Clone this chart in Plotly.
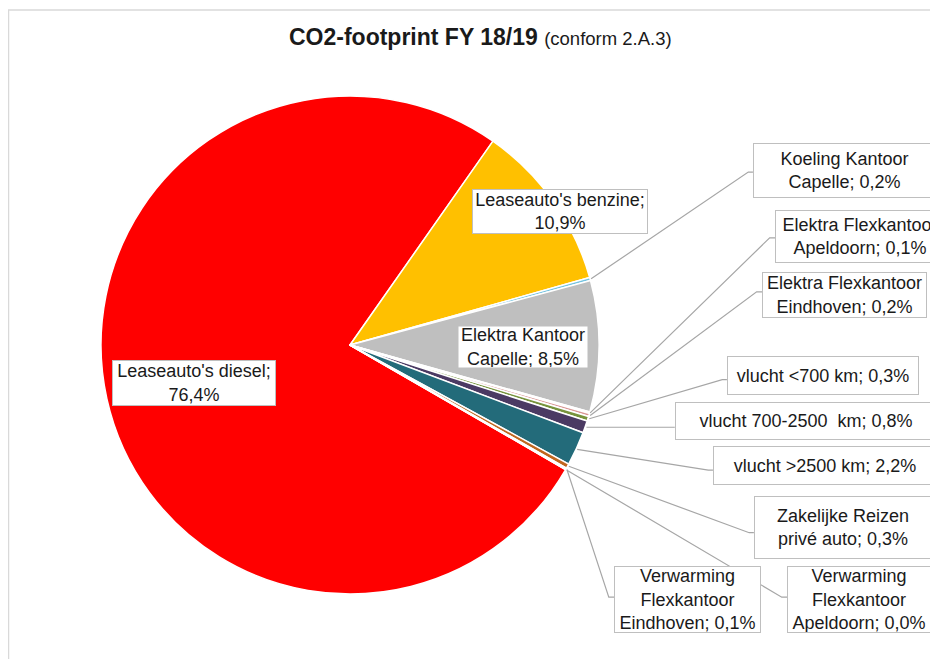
import math
import plotly.graph_objects as go

# ---------------- data ----------------
categories = [
    "Leaseauto's diesel",
    "Leaseauto's benzine",
    "Koeling Kantoor Capelle",
    "Elektra Kantoor Capelle",
    "Elektra Flexkantoor Apeldoorn",
    "Elektra Flexkantoor Eindhoven",
    "vlucht <700 km",
    "vlucht 700-2500  km",
    "vlucht >2500 km",
    "Zakelijke Reizen privé auto",
    "Verwarming Flexkantoor Eindhoven",
    "Verwarming Flexkantoor Apeldoorn",
]
values = [76.4, 10.9, 0.2, 8.5, 0.1, 0.2, 0.3, 0.8, 2.2, 0.3, 0.1, 0.0]
# label text with line breaks; {} gets the percentage
label_templates = [
    "Leaseauto's diesel;<br>{}",
    "Leaseauto's benzine;<br>{}",
    "Koeling Kantoor<br>Capelle; {}",
    "Elektra Kantoor<br>Capelle; {}",
    "Elektra Flexkantoor<br>Apeldoorn; {}",
    "Elektra Flexkantoor<br>Eindhoven; {}",
    "vlucht <700 km; {}",
    "vlucht 700-2500  km; {}",
    "vlucht >2500 km; {}",
    "Zakelijke Reizen<br>privé auto; {}",
    "Verwarming<br>Flexkantoor<br>Eindhoven; {}",
    "Verwarming<br>Flexkantoor<br>Apeldoorn; {}",
]
colors = ["#FF0000", "#FFC000", "#74C3E0", "#BFBFBF", "#F2DCDB", "#D99694",
          "#77933C", "#4B3A63", "#236B7A", "#C0661E", "#8C8C8C", "#595959"]

title_main = "CO2-footprint FY 18/19"
title_sub = "(conform 2.A.3)"

# ---------------- layout constants ----------------
# the page body has an 8px margin, so the figure is drawn at (8, 8)
OFF = 8
W, H = 938 - OFF, 659 - OFF
CX, CY, R = 350, 345, 249
ROTATION = 120

# label box layout (window pixels): (center x, center y, width, height, knee y, outside?)
box_layout = [
    (194, 383, 164, 46, None, False),
    (560, 211.5, 176, 45, None, False),
    (844.5, 170.5, 183, 55, 172, True),
    (523, 347, 130, 42, None, False),
    (860, 236.5, 170, 53, 238, True),
    (844.5, 295, 165, 46, 292, True),
    (823, 375.5, 192, 39, 380, True),
    (806, 421, 262, 38, 427, True),
    (825, 465.5, 224, 39, 470, True),
    (843, 527.5, 178, 63, 533, True),
    (687.5, 599.5, 147, 67, 597, True),
    (859, 599.5, 144, 67, 597, True),
]
inner_border = [True, True, True, False]

def px(x):
    return (x - OFF) / W

def py(y):
    return 1 - (y - OFF) / H

fig = go.Figure()
fig.add_trace(go.Pie(
    labels=categories,
    values=values,
    sort=False,
    direction="clockwise",
    rotation=ROTATION,
    textinfo="none",
    hoverinfo="label+percent",
    marker=dict(colors=colors, line=dict(color="white", width=1.5)),
    domain=dict(x=[px(CX - R), px(CX + R)], y=[py(CY + R), py(CY - R)]),
    showlegend=False,
))

total = sum(values)
cum = 0.0
shapes = []
annotations = []
for i, v in enumerate(values):
    mid = math.radians(ROTATION + 360.0 * (cum + v / 2) / total)
    cum += v
    bx, by, bw, bh, knee_y, outside = box_layout[i]
    pct = ("%.1f%%" % v).replace(".", ",")
    text = label_templates[i].format(pct)
    bordered = outside or inner_border[i]
    annotations.append(dict(
        x=px(bx), y=py(by), xref="paper", yref="paper",
        xanchor="center", yanchor="middle",
        text=text, showarrow=False, align="center", valign="middle",
        width=bw - 2, height=bh - 2, borderpad=0,
        bgcolor="white",
        bordercolor="#BFBFBF" if bordered else "rgba(0,0,0,0)",
        borderwidth=1,
        font=dict(family="Liberation Sans, Arial, sans-serif", size=18, color="#1A1A1A"),
    ))
    if outside:
        sx = CX + R * 1.004 * math.sin(mid)
        sy = CY - R * 1.004 * math.cos(mid)
        left = bx - bw / 2
        kx = left - 5
        path = "M %.3f %.3f L %.3f %.3f L %.3f %.3f" % (
            px(sx), py(sy), px(kx), py(knee_y), px(left), py(knee_y))
        shapes.append(dict(type="path", path=path, xref="paper", yref="paper",
                           line=dict(color="#A6A6A6", width=1.2)))

# chart area border
shapes.append(dict(type="rect", xref="paper", yref="paper",
                   x0=px(8.5), y0=py(10), x1=px(960), y1=py(680),
                   line=dict(color="#D9D9D9", width=1.5), layer="below"))

annotations.append(dict(
    x=px(480), y=py(37), xref="paper", yref="paper",
    xanchor="center", yanchor="middle", showarrow=False,
    text="<b>%s</b> <span style='font-size:18.5px'>%s</span>" % (title_main, title_sub),
    font=dict(family="Liberation Sans, Arial, sans-serif", size=23, color="#1A1A1A"),
))

fig.update_layout(
    width=W, height=H,
    margin=dict(l=0, r=0, t=0, b=0),
    paper_bgcolor="white",
    plot_bgcolor="white",
    shapes=shapes,
    annotations=annotations,
)

fig.write_html("out.html")
